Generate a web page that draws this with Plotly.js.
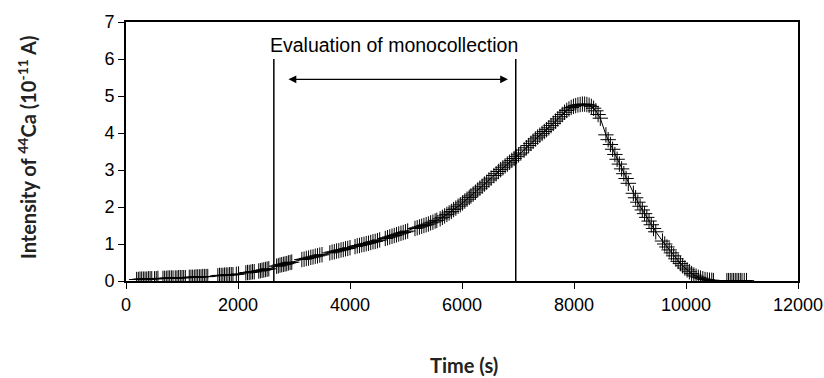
<!DOCTYPE html>
<html>
<head>
<meta charset="utf-8">
<script src="https://cdn.plot.ly/plotly-3.0.1.min.js"></script>
<style>html,body{margin:0;padding:0;background:#fff;}#chart{width:824px;height:378px;}</style>
</head>
<body>
<div id="chart"></div>
<script>
// Time (s)
const timeS = [
  190,220,250,280,310,340,370,400,430,460,
  510,540,570,
  660,690,720,750,780,810,840,
  880,910,940,970,1000,1030,1060,
  1130,1160,1190,1220,1250,1280,1310,1340,1370,1400,1430,1460,
  1640,1670,1700,1730,1760,1790,1820,1850,1880,1910,
  1970,2010,
  2140,2170,2200,2230,2260,2290,
  2370,2400,2430,2460,2490,2520,2550,
  2690,2720,2750,2780,2810,2840,2870,2900,2930,2960,
  3140,3180,3220,3260,3300,3340,3380,3420,3460,3500,
  3640,3680,3720,3760,3800,3840,3880,3920,3960,4000,
  4090,4130,4170,4210,4250,4290,4330,4370,4410,4450,4490,4530,
  4630,4670,4710,4750,4790,4830,4870,4910,4950,4990,5030,
  5160,5200,5240,5280,5320,5360,5400,5440,5480,5520,5550,
  5610,5650,5690,5730,5770,5810,5850,5890,5930,5970,6010,6050,6090,6130,
  6160,6200,6240,6280,6320,6360,6400,6440,6480,6520,
  6570,6610,6650,6690,6730,6770,6810,6850,6890,6930,6970,7010,7050,
  7110,7150,7190,7230,7270,7310,7350,7390,7430,7470,7510,7550,
  7590,7630,7670,7710,7750,7790,7830,7870,7910,7950,7990,8030,8070,8110,
  8150,8190,8230,8270,8310,8350,8390,8430,8470,
  8570,8610,8650,8690,8730,8770,8810,8850,8890,8930,8970,
  9060,9100,9140,9180,9220,9260,9300,9340,9380,9420,9460,
  9580,9620,9660,9700,9740,9780,9820,9860,9900,9940,9980,10020,10060,10100,10140,10180,10220,10260,10300,10340,10380,10420,10460,10490,
  10730,10760,10790,10820,10850,10880,10910,10940,10970,11000,11040,11080
];
// Intensity of 44Ca (10^-11 A)
const intensity = [
  0.04,0.04,0.05,0.05,0.05,0.05,0.05,0.06,0.06,0.06,
  0.06,0.06,0.07,
  0.07,0.07,0.07,0.08,0.08,0.08,0.08,
  0.08,0.08,0.09,0.09,0.09,0.09,0.09,
  0.10,0.10,0.10,0.10,0.11,0.11,0.11,0.11,0.12,0.12,0.12,0.12,
  0.14,0.15,0.15,0.15,0.16,0.16,0.16,0.17,0.17,0.17,
  0.18,0.19,
  0.22,0.23,0.23,0.24,0.25,0.25,
  0.27,0.28,0.29,0.30,0.31,0.32,0.33,
  0.40,0.41,0.43,0.44,0.45,0.46,0.47,0.49,0.50,0.51,
  0.58,0.59,0.61,0.62,0.64,0.65,0.67,0.68,0.70,0.71,
  0.76,0.78,0.79,0.81,0.82,0.84,0.85,0.87,0.88,0.90,
  0.93,0.95,0.96,0.98,0.99,1.01,1.02,1.04,1.06,1.07,1.09,1.11,
  1.15,1.17,1.19,1.21,1.23,1.25,1.27,1.29,1.31,1.33,1.35,
  1.42,1.44,1.46,1.48,1.50,1.52,1.54,1.57,1.59,1.62,1.64,
  1.68,1.72,1.76,1.80,1.84,1.88,1.93,1.97,2.02,2.06,2.11,2.16,2.21,2.26,
  2.30,2.35,2.40,2.46,2.51,2.56,2.62,2.67,2.73,2.78,
  2.85,2.90,2.96,3.01,3.06,3.11,3.16,3.21,3.26,3.31,3.36,3.41,3.46,
  3.54,3.60,3.66,3.72,3.78,3.84,3.89,3.94,3.99,4.04,4.09,4.14,
  4.20,4.26,4.32,4.38,4.44,4.50,4.56,4.61,4.65,4.69,4.72,4.74,4.76,4.77,
  4.78,4.78,4.77,4.75,4.72,4.67,4.60,4.50,4.40,
  3.95,3.82,3.69,3.56,3.42,3.29,3.16,3.03,2.90,2.77,2.64,
  2.37,2.25,2.13,2.02,1.92,1.82,1.72,1.62,1.52,1.42,1.33,
  1.08,1.00,0.92,0.84,0.76,0.68,0.60,0.53,0.47,0.41,0.35,0.30,0.25,0.20,0.16,0.13,0.10,0.08,0.06,0.04,0.03,0.02,0.02,0.01,
  0.01,0.01,0.01,0.01,0.01,0.01,0.01,0.01,0.01,0.01,0.01,0.01
];
const xTickVals = [0,2000,4000,6000,8000,10000,12000];
const xTickText = ['0','2000','4000','6000','8000','10000','12000'];
const yTickVals = [0,1,2,3,4,5,6,7];
const yTickText = ['0','1','2','3','4','5','6','7'];
// Evaluation window (s) and marker heights
const evalStart = 2640;
const evalEnd = 6960;
const evalLineTop = 6.0;
const arrowFrom = 2875;
const arrowTo = 6821;
const arrowLevel = 5.45;
const labelText = 'Evaluation of monocollection';

const tickFont = {family: 'Liberation Sans, Arial, sans-serif', size: 18, color: '#000'};
const titleFont = {family: 'Lato, Noto Sans, sans-serif', size: 20, color: '#222', weight: 'bold'};

const trace = {
  x: timeS, y: intensity, type: 'scatter', mode: 'lines+markers',
  line: {color: '#000', width: 1},
  marker: {symbol: 'cross-thin-open', size: 11, color: '#000', line: {color: 'rgba(0,0,0,0.85)', width: 1}},
  showlegend: false, hoverinfo: 'skip'
};

const axisBase = {
  showline: true, mirror: true, linecolor: '#000', linewidth: 2,
  showgrid: false, zeroline: false, ticks: 'outside', ticklen: 6, tickwidth: 1,
  tickcolor: '#000', tickfont: tickFont, fixedrange: true
};

const layout = {
  width: 824, height: 378,
  margin: {l: 126, r: 26, t: 22, b: 97, pad: 0},
  paper_bgcolor: '#fff', plot_bgcolor: '#fff',
  xaxis: Object.assign({}, axisBase, {range: [0, 12000], tickmode: 'array', tickvals: xTickVals, ticktext: xTickText}),
  yaxis: Object.assign({}, axisBase, {range: [0, 7], tickmode: 'array', tickvals: yTickVals, ticktext: yTickText}),
  shapes: [
    {type: 'line', xref: 'x', yref: 'y', x0: evalStart, x1: evalStart, y0: 0, y1: evalLineTop, line: {color: '#000', width: 1.5}},
    {type: 'line', xref: 'x', yref: 'y', x0: evalEnd, x1: evalEnd, y0: 0, y1: evalLineTop, line: {color: '#000', width: 1.5}}
  ],
  annotations: [
    {x: arrowTo, y: arrowLevel, ax: arrowFrom, ay: arrowLevel, xref: 'x', yref: 'y', axref: 'x', ayref: 'y',
     text: '', showarrow: true, arrowhead: 2, arrowside: 'end+start', arrowsize: 1.3, arrowwidth: 1.2, arrowcolor: '#000'},
    {x: (evalStart + evalEnd) / 2 - 20, y: 6.39, xref: 'x', yref: 'y', text: labelText, showarrow: false,
     font: {family: 'Liberation Sans, Arial, sans-serif', size: 19.5, color: '#000'}},
    {x: -0.1473, y: 0.517, xref: 'paper', yref: 'paper', text: 'Intensity of <sup>44</sup>Ca (10<sup>-11</sup> A)',
     textangle: -90, showarrow: false, font: titleFont, xanchor: 'center', yanchor: 'middle'},
    {x: 0.503, y: -0.325, xref: 'paper', yref: 'paper', text: 'Time (s)', showarrow: false, font: titleFont,
     xanchor: 'center', yanchor: 'middle'}
  ]
};

Plotly.newPlot('chart', [trace], layout, {staticPlot: true, displayModeBar: false});
</script>
</body>
</html>
